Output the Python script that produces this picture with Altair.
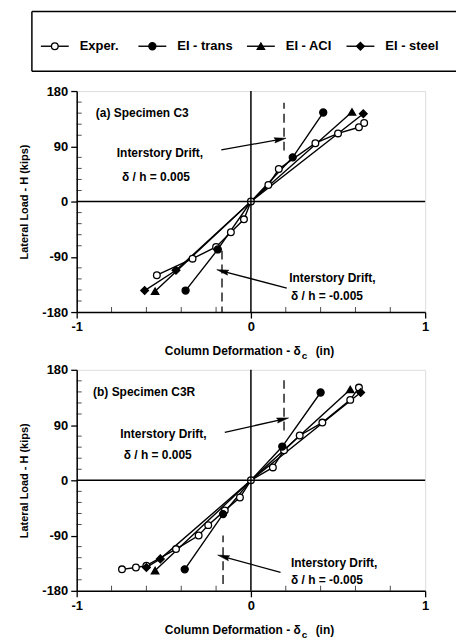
import math
import altair as alt
import pandas as pd

# ---------------- data ----------------
SERIES = ["Exper.", "EI - trans", "EI - ACI", "EI - steel"]
SHAPES = ["circle", "circle", "triangle-up", "diamond"]
FILLS = ["white", "black", "black", "black"]
SIZES = [45, 60, 50, 35]

# Panel (a) Specimen C3
a_exper_x = [-0.54, -0.335, -0.20, -0.115, -0.04, 0.0, 0.10, 0.16, 0.37, 0.50, 0.62, 0.65]
a_exper_y = [-120, -93, -74, -50, -29, 0, 27, 53, 95, 111, 121, 128]
a_trans_x = [-0.375, -0.19, 0.0, 0.24, 0.415]
a_trans_y = [-145, -78, 0, 72, 145]
a_aci_x = [-0.55, 0.0, 0.58]
a_aci_y = [-146, 0, 146]
a_steel_x = [-0.61, -0.43, 0.0, 0.645]
a_steel_y = [-145, -112, 0, 143]

# Panel (b) Specimen C3R
b_exper_x = [-0.74, -0.66, -0.60, -0.43, -0.30, -0.245, -0.15, -0.063, 0.0, 0.126, 0.19, 0.28, 0.41, 0.57, 0.62]
b_exper_y = [-145, -142, -139, -112, -90, -73, -49, -28, 0, 21, 49, 73, 94, 131, 151]
b_trans_x = [-0.38, -0.16, 0.0, 0.18, 0.40]
b_trans_y = [-145, -55, 0, 55, 143]
b_aci_x = [-0.55, 0.0, 0.57]
b_aci_y = [-147, 0, 148]
b_steel_x = [-0.60, -0.52, 0.0, 0.63]
b_steel_y = [-142, -128, 0, 143]

# annotations (data units)
a_label_text = ["(a) Specimen C3", "Interstory Drift,", "δ / h = 0.005", "Interstory Drift,", "δ / h = -0.005"]
a_label_x = [-0.89, -0.77, -0.74, 0.22, 0.23]
a_label_y = [145, 79, 40, -125, -154]
a_dash_x = [0.19, -0.166]
a_dash_y1 = [83, -80]
a_dash_y2 = [161, -180]
a_arrow_x1 = [-0.17, 0.206]
a_arrow_y1 = [84, -141]
a_arrow_x2 = [0.16, -0.155]
a_arrow_y2 = [101, -114]

b_label_text = ["(b) Specimen C3R", "Interstory Drift,", "δ / h = 0.005", "Interstory Drift,", "δ / h = -0.005"]
b_label_x = [-0.906, -0.75, -0.73, 0.23, 0.23]
b_label_y = [143, 75, 41, -134, -163]
b_dash_x = [0.19, -0.16]
b_dash_y1 = [81, -169]
b_dash_y2 = [163, -90]
b_arrow_x1 = [-0.15, 0.17]
b_arrow_y1 = [78, -150]
b_arrow_x2 = [0.175, -0.15]
b_arrow_y2 = [99, -125]

X_TICKS = [-1, 0, 1]
Y_TICKS = [-180, -90, 0, 90, 180]
X_MINOR = [-0.8, -0.6, -0.4, -0.2, 0.2, 0.4, 0.6, 0.8]
Y_MINOR = [-162, -144, -126, -108, -72, -54, -36, -18, 18, 36, 54, 72, 108, 126, 144, 162]

# ---------------- layout ----------------
FONT = "Liberation Sans"
W, H = 350, 222
XDOM, YDOM = [-1, 1], [-180, 180]
ARROW_PATH = "M0,-1L0.35,0.6L0,0.4L-0.35,0.6Z"

shape_scale = alt.Scale(domain=SERIES, range=SHAPES)
fill_scale = alt.Scale(domain=SERIES, range=FILLS)
size_scale = alt.Scale(domain=SERIES, range=SIZES)


def series_df(groups):
    rows = []
    for name, xs, ys in groups:
        for i, (x, y) in enumerate(zip(xs, ys)):
            show = not (name != "Exper." and x == 0 and y == 0)
            rows.append({"series": name, "x": x, "y": y, "order": i, "show": show})
    return pd.DataFrame(rows)


def panel(df, lab_t, lab_x, lab_y, dx, dy1, dy2, ax1, ay1, ax2, ay2):
    xs = alt.Scale(domain=XDOM, nice=False, zero=False)
    ys = alt.Scale(domain=YDOM, nice=False, zero=False)
    xax = alt.Axis(values=X_TICKS, title=None, grid=False, labelFlush=False, tickSize=6,
                   labelExpr="'' + datum.value",
                   labelFontSize=13, labelFont=FONT, labelFontWeight="bold", labelPadding=3,
                   labelColor="black", tickColor="black", domainColor="black", domainWidth=1.5,
                   tickWidth=1.3)
    yax = alt.Axis(values=Y_TICKS, title="Lateral Load - H (kips)", grid=False, labelFlush=False,
                   labelExpr="'' + datum.value",
                   tickSize=6, labelFontSize=13, labelFont=FONT, labelFontWeight="bold",
                   labelPadding=3, labelColor="black", tickColor="black", domainColor="black",
                   domainWidth=1.5, tickWidth=1.3, titleFont=FONT, titleFontSize=11,
                   titleFontWeight="bold", titleColor="black", titlePadding=12)

    lines = alt.Chart(df).mark_line(color="black", strokeWidth=1.4).encode(
        x=alt.X("x:Q", scale=xs, axis=xax),
        y=alt.Y("y:Q", scale=ys, axis=yax),
        detail="series:N",
        order="order:Q",
    )
    pts = alt.Chart(df).transform_filter("datum.show").mark_point(
        stroke="black", strokeWidth=1.3, opacity=1, fillOpacity=1
    ).encode(
        x="x:Q", y="y:Q",
        shape=alt.Shape("series:N", scale=shape_scale, legend=None),
        fill=alt.Fill("series:N", scale=fill_scale, legend=None),
        size=alt.Size("series:N", scale=size_scale, legend=None),
    )
    zero = pd.DataFrame({"v": [0]})
    vline = alt.Chart(zero).mark_rule(color="black", strokeWidth=1.5).encode(x="v:Q")
    hline = alt.Chart(zero).mark_rule(color="black", strokeWidth=1.5).encode(y="v:Q")

    dash_df = pd.DataFrame({"x": dx, "y1": dy1, "y2": dy2})
    dashes = alt.Chart(dash_df).mark_rule(color="black", strokeWidth=1.3, strokeDash=[9, 5]).encode(
        x="x:Q", y="y1:Q", y2="y2:Q")

    pxu, pyu = W / (XDOM[1] - XDOM[0]), H / (YDOM[1] - YDOM[0])
    angs = []
    for x1, y1, x2, y2 in zip(ax1, ay1, ax2, ay2):
        ddx = (x2 - x1) * pxu
        ddy = -(y2 - y1) * pyu
        angs.append(math.degrees(math.atan2(ddx, -ddy)) % 360)
    arr_df = pd.DataFrame({"sx": ax1, "sy": ay1, "ex": ax2, "ey": ay2, "ang": angs})
    shafts = alt.Chart(arr_df).mark_rule(color="black", strokeWidth=1.3).encode(
        x="sx:Q", y="sy:Q", x2="ex:Q", y2="ey:Q")
    heads = alt.Chart(arr_df).mark_point(shape=ARROW_PATH, filled=True, fill="black",
                                         stroke="black", strokeWidth=0.5, size=220,
                                         opacity=1, fillOpacity=1).encode(
        x="ex:Q", y="ey:Q", angle=alt.Angle("ang:Q", scale=None))

    lab_df = pd.DataFrame({"t": lab_t, "x": lab_x, "y": lab_y})
    labels = alt.Chart(lab_df).mark_text(align="left", baseline="middle", font=FONT, fontSize=12,
                                         fontWeight="bold", color="black").encode(
        x="x:Q", y="y:Q", text="t:N")

    xm = alt.Chart(pd.DataFrame({"v": X_MINOR})).mark_tick(
        orient="vertical", color="black", size=5, thickness=1).encode(
        x="v:Q", y=alt.value(H - 2.5))
    ym = alt.Chart(pd.DataFrame({"v": Y_MINOR})).mark_tick(
        orient="horizontal", color="black", size=5, thickness=1).encode(
        y="v:Q", x=alt.value(2.5))

    one = pd.DataFrame({"a": [0]})
    t1 = alt.Chart(one).mark_text(align="right", baseline="alphabetic", font=FONT, fontSize=12,
                                  fontWeight="bold", color="black").encode(
        x=alt.value(225), y=alt.value(H + 43), text=alt.value("Column Deformation - δ"))
    t2 = alt.Chart(one).mark_text(align="left", baseline="alphabetic", font=FONT, fontSize=10,
                                  fontWeight="bold", color="black").encode(
        x=alt.value(226), y=alt.value(H + 47), text=alt.value("c"))
    t3 = alt.Chart(one).mark_text(align="left", baseline="alphabetic", font=FONT, fontSize=12,
                                  fontWeight="bold", color="black").encode(
        x=alt.value(240), y=alt.value(H + 43), text=alt.value("(in)"))

    return alt.layer(lines, pts, vline, hline, dashes, shafts, heads, labels, xm, ym,
                     t1, t2, t3).properties(width=W, height=H)


df_a = series_df([("Exper.", a_exper_x, a_exper_y), ("EI - trans", a_trans_x, a_trans_y),
                  ("EI - ACI", a_aci_x, a_aci_y), ("EI - steel", a_steel_x, a_steel_y)])
df_b = series_df([("Exper.", b_exper_x, b_exper_y), ("EI - trans", b_trans_x, b_trans_y),
                  ("EI - ACI", b_aci_x, b_aci_y), ("EI - steel", b_steel_x, b_steel_y)])

pa = panel(df_a, a_label_text, a_label_x, a_label_y, a_dash_x, a_dash_y1, a_dash_y2,
           a_arrow_x1, a_arrow_y1, a_arrow_x2, a_arrow_y2)
pb = panel(df_b, b_label_text, b_label_x, b_label_y, b_dash_x, b_dash_y1, b_dash_y2,
           b_arrow_x1, b_arrow_y1, b_arrow_x2, b_arrow_y2)

# ---------------- legend box ----------------
LEG_H = 60
LEG_Y = 35
leg_marker = [-22, 76, 185, 285]
leg_df = pd.DataFrame({
    "series": SERIES,
    "mx": leg_marker,
    "lx1": [m - 14 for m in leg_marker],
    "lx2": [m + 14 for m in leg_marker],
    "tx": [m + 25 for m in leg_marker],
})
leg_lines = alt.Chart(leg_df).mark_rule(color="black", strokeWidth=1.4).encode(
    x=alt.X("lx1:Q", scale=None), x2="lx2:Q", y=alt.value(LEG_Y))
leg_pts = alt.Chart(leg_df).mark_point(stroke="black", strokeWidth=1.3, opacity=1,
                                       fillOpacity=1).encode(
    x=alt.X("mx:Q", scale=None), y=alt.value(LEG_Y),
    shape=alt.Shape("series:N", scale=shape_scale, legend=None),
    fill=alt.Fill("series:N", scale=fill_scale, legend=None),
    size=alt.Size("series:N", scale=size_scale, legend=None))
leg_txt = alt.Chart(leg_df).mark_text(align="left", baseline="middle", font=FONT, fontSize=13,
                                      fontWeight="bold", color="black").encode(
    x=alt.X("tx:Q", scale=None), y=alt.value(LEG_Y), text="series:N")
one = pd.DataFrame({"a": [0]})
box_top = alt.Chart(one).mark_rule(color="black", strokeWidth=1.5).encode(
    x=alt.value(-45), x2=alt.value(381), y=alt.value(0))
box_bot = alt.Chart(one).mark_rule(color="black", strokeWidth=1.5).encode(
    x=alt.value(-45), x2=alt.value(381), y=alt.value(LEG_H))
box_left = alt.Chart(one).mark_rule(color="black", strokeWidth=1.5).encode(
    x=alt.value(-45), y=alt.value(0), y2=alt.value(LEG_H))
legend = alt.layer(box_top, box_bot, box_left, leg_lines, leg_pts, leg_txt).properties(
    width=W, height=LEG_H, view=alt.ViewBackground(stroke="transparent"))

panels = alt.vconcat(pa, pb, spacing=1).resolve_scale(x="independent", y="independent")

chart = alt.vconcat(legend, panels, spacing=11).properties(
    padding={"left": 10, "top": 0, "right": 0, "bottom": 0}
).configure_view(stroke="black", strokeWidth=1.5).configure(background="white")

chart.save("out.html", embed_options={"renderer": "svg", "actions": False})
